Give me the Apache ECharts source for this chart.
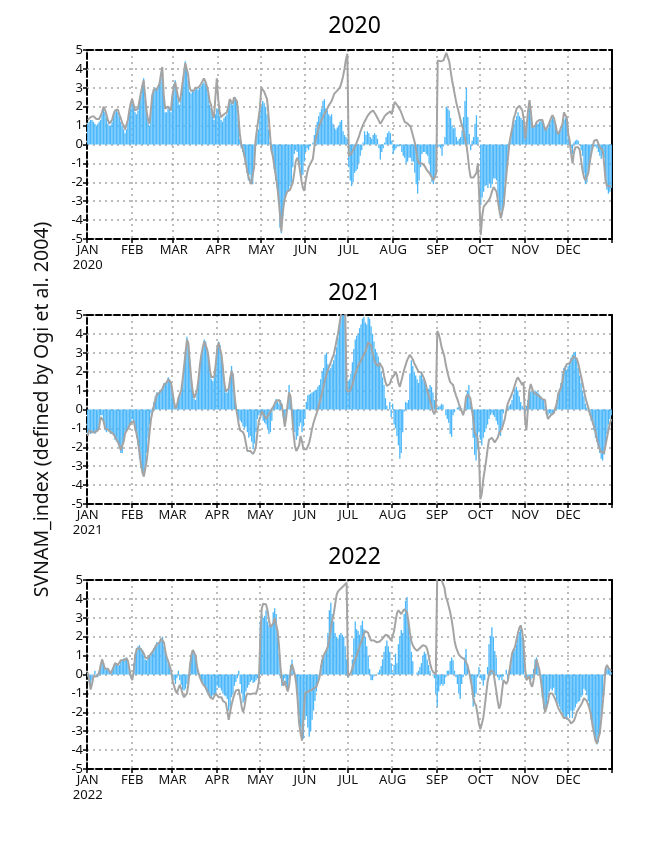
<!DOCTYPE html>
<html><head><meta charset="utf-8">
<script src="https://cdn.jsdelivr.net/npm/echarts@6/dist/echarts.min.js"></script>
<style>html,body{margin:0;padding:0;background:#fff}#c{width:662px;height:857px}</style>
</head><body><div id="c"></div>
<script>
const monthNames = ['JAN','FEB','MAR','APR','MAY','JUN','JUL','AUG','SEP','OCT','NOV','DEC'];
const panelYears = [2020, 2021, 2022];
const yTicks = [-5,-4,-3,-2,-1,0,1,2,3,4,5];
const yName = 'SVNAM_index (defined by Ogi et al. 2004)';

const bars2020 = [
1.1,1.2,1.3,1.3,1.2,1.1,1.0,1.1,1.2,1.3,1.6,1.9,1.7,1.4,1.1,1.0,1.0,1.2,1.5,1.7,1.8,1.7,1.5,1.2,1.0,0.8,0.6,0.8,1.2,1.7,2.1,
2.3,2.0,1.7,1.6,1.8,2.2,2.6,3.0,3.5,2.4,1.6,1.2,1.0,1.7,2.6,2.9,3.0,2.9,3.0,3.3,3.8,4.0,2.4,1.7,1.7,1.9,2.0,1.7,2.5,
3.2,3.4,2.8,2.4,2.1,2.5,3.1,3.7,4.4,4.0,3.4,2.8,2.7,2.9,2.8,2.9,3.0,2.9,3.0,3.1,3.2,3.3,3.2,3.0,2.7,2.1,1.9,1.5,1.3,1.6,1.9,
1.9,1.5,1.3,1.2,1.4,1.5,1.6,1.9,2.3,2.2,2.1,2.4,2.5,2.2,1.4,0.3,-0.2,-0.4,-0.6,-1.0,-1.5,-1.9,-1.6,-2.0,-2.1,-1.0,0.1,0.6,0.8,1.8,
2.0,2.3,2.2,2.0,1.6,0.8,0.1,-0.3,-0.7,-1.3,-1.9,-2.3,-3.0,-4.4,-4.7,-3.8,-3.0,-2.7,-2.5,-2.4,-2.2,-2.0,-1.2,-0.5,-0.3,-0.4,-0.8,-1.1,-1.8,-1.6,-0.9,
-0.4,-0.2,-0.3,-0.1,0.0,0.1,0.5,0.9,1.2,1.5,1.7,1.9,2.3,2.4,1.9,1.8,1.6,1.5,1.6,1.1,0.9,0.8,0.9,1.0,1.2,1.3,0.7,0.5,0.4,0.3,
-1.2,-1.9,-2.2,-2.0,-1.5,-1.4,-1.3,-1.0,-0.6,-0.3,0.1,0.7,0.5,0.7,0.6,0.4,0.3,0.5,0.6,0.5,0.3,-0.2,-0.8,-0.4,-0.2,0.1,0.4,0.6,0.7,0.6,0.2,
-0.5,-0.3,-0.2,-0.1,-0.1,-0.05,-0.4,-0.6,-0.7,-1.0,-0.9,-0.7,-0.7,-0.9,-0.9,-1.5,-2.1,-2.6,-1.9,-1.2,-0.5,-0.4,-0.4,-0.5,-0.6,-1.0,-1.7,-2.0,-2.1,-1.8,-1.4,
-0.15,-0.1,-0.2,-0.6,-0.1,0.4,2.0,1.9,1.8,1.4,1.0,0.85,0.9,0.4,0.2,0.3,0.4,0.75,1.45,2.3,3.0,1.45,0.55,-0.3,0.2,0.4,1.1,1.55,0.4,0.0,
-3.2,-2.8,-2.5,-2.2,-2.15,-2.3,-2.05,-2.3,-2.1,-1.8,-1.8,-1.9,-2.8,-3.3,-3.5,-3.7,-2.9,-2.0,-1.3,-0.6,0.1,0.5,0.8,1.1,1.3,1.5,1.7,1.5,1.4,1.3,1.0,
0.6,1.1,1.6,1.9,1.5,1.0,0.9,1.0,1.1,1.1,1.2,1.3,1.2,1.0,0.8,0.8,0.9,1.1,1.3,1.4,1.3,1.0,0.7,0.6,0.7,0.8,1.0,1.3,1.4,1.2,
0.3,0.1,-0.2,-0.5,0.1,0.2,0.25,0.2,0.0,-0.3,-0.6,-1.5,-2.1,-2.0,-1.6,-1.0,-0.5,-0.2,-0.1,-0.1,-0.2,-0.4,-0.6,-0.75,-0.5,-0.7,-1.7,-2.4,-2.6,-2.5,-2.3
];
const line2020 = [
1.3,1.4,1.45,1.5,1.5,1.45,1.35,1.3,1.35,1.45,1.7,2.0,1.85,1.6,1.3,1.1,1.15,1.3,1.6,1.8,1.9,1.85,1.6,1.4,1.15,1.0,0.8,0.9,1.3,1.8,2.2,
2.4,2.1,1.8,1.7,1.9,2.3,2.7,3.1,3.4,2.6,1.8,1.3,1.1,1.8,2.6,2.9,2.95,2.9,3.0,3.2,3.7,4.1,2.6,1.9,1.8,2.0,2.1,1.8,2.6,
3.0,3.3,2.9,2.5,2.25,2.6,3.2,3.75,4.3,4.2,3.7,3.0,2.85,2.95,2.85,3.0,3.1,3.0,3.05,3.2,3.35,3.5,3.35,3.1,2.8,2.3,2.1,1.6,1.4,2.5,3.5,
2.4,1.7,1.45,1.5,1.6,1.55,1.7,2.0,2.4,2.3,2.15,2.5,2.6,2.3,1.6,0.6,0.0,-0.2,-0.5,-0.9,-1.3,-1.7,-1.8,-2.1,-2.2,-1.2,0.2,0.8,0.9,1.9,
3.0,2.9,2.8,2.7,2.4,1.6,0.6,-0.3,-0.6,-1.1,-1.6,-2.1,-2.8,-3.7,-4.6,-3.6,-3.0,-2.7,-2.5,-2.45,-2.4,-2.3,-2.0,-1.5,-0.9,-0.7,-0.9,-1.4,-1.9,-2.3,-2.45,
-1.9,-1.5,-1.2,-1.05,-0.95,-0.75,-0.1,0.3,0.6,0.9,1.1,1.3,1.45,1.6,1.75,1.9,2.05,2.15,2.3,2.5,2.7,2.8,2.85,2.95,3.05,3.3,3.6,4.0,4.5,4.8,
-0.6,-0.55,-0.45,-0.3,-0.15,0.0,0.2,0.4,0.65,0.85,1.05,1.2,1.35,1.5,1.6,1.7,1.75,1.8,1.7,1.55,1.4,1.25,1.1,1.2,1.35,1.5,1.6,1.65,1.7,1.75,1.6,
2.0,2.25,2.15,2.05,1.95,1.8,1.6,1.4,1.2,1.1,1.1,1.05,0.95,0.85,0.4,0.1,-0.3,-0.8,-1.0,-1.0,-1.0,-1.05,-1.15,-1.3,-1.4,-1.5,-1.6,-1.75,-1.9,-1.8,-1.5,
4.45,4.55,4.4,4.35,4.45,4.65,4.85,4.8,4.4,3.9,3.4,3.0,2.6,2.2,1.9,1.6,1.25,1.0,0.7,0.3,0.0,-0.6,-1.3,-1.75,-1.75,-1.75,-1.65,-1.5,-1.0,-0.9,
-4.8,-3.8,-3.3,-3.2,-3.1,-3.05,-2.9,-2.7,-2.45,-2.25,-2.3,-2.5,-3.0,-3.5,-3.9,-3.8,-3.2,-2.3,-1.5,-0.7,0.1,0.5,0.9,1.4,1.6,1.9,2.0,2.05,2.0,1.8,1.3,
0.3,1.0,1.8,2.35,1.7,0.9,0.9,1.0,1.2,1.1,1.3,1.4,1.3,1.0,0.75,0.8,1.0,1.2,1.4,1.55,1.4,1.1,0.7,0.55,0.7,0.8,1.1,1.7,1.8,1.4,
0.55,0.2,-0.5,-1.0,-0.4,-0.15,-0.1,-0.15,-0.3,-0.85,-1.4,-1.75,-1.9,-1.8,-1.5,-0.95,-0.5,-0.15,0.2,0.3,0.25,0.05,-0.15,-0.15,-0.3,-1.0,-1.9,-2.2,-2.25,-2.2,-2.25
];

const bars2021 = [
-1.3,-1.2,-1.3,-1.2,-1.2,-1.3,-1.2,-1.1,-0.8,-0.3,-0.3,-0.7,-1.1,-1.2,-1.1,-1.2,-1.3,-1.2,-1.4,-1.6,-1.7,-1.8,-2.0,-2.3,-2.3,-1.6,-1.2,-1.1,-1.0,-0.8,-0.7,
-0.5,-0.7,-1.1,-1.5,-1.9,-2.6,-3.1,-3.4,-3.5,-3.2,-2.3,-1.5,-0.8,-0.2,0.1,0.4,0.7,0.9,0.9,1.0,1.0,1.2,1.4,1.4,1.5,1.7,1.6,1.3,
0.8,0.35,0.05,0.2,0.5,0.7,0.9,1.5,2.2,3.0,3.85,3.4,2.4,1.5,0.9,0.55,0.5,0.9,1.5,2.3,2.8,3.3,3.7,3.6,3.1,2.6,1.95,1.6,1.5,1.7,2.3,
3.3,3.6,3.4,2.8,2.1,1.3,0.9,0.9,1.1,1.7,2.3,1.9,0.9,0.2,-0.2,-0.5,-0.6,-0.7,-0.9,-1.0,-0.9,-1.2,-1.5,-1.4,-1.7,-2.1,-1.8,-1.2,-0.5,-0.3,
-0.2,-0.3,-0.6,-0.7,-0.8,-1.0,-1.3,-1.2,-0.6,0.1,0.4,0.55,0.4,0.3,0.5,0.3,-0.4,-0.9,-0.5,0.4,1.3,0.5,-0.3,-0.9,-1.2,-1.6,-1.4,-0.9,-0.7,-1.2,-0.9,
-0.5,0.4,0.75,0.8,0.85,0.9,0.95,1.0,1.05,1.2,1.3,1.6,2.0,2.2,2.9,3.0,2.4,2.1,2.2,2.4,2.6,2.9,3.3,3.8,4.3,4.8,5.0,5.0,4.8,2.0,
1.5,1.6,1.9,2.5,3.2,3.7,3.9,4.0,4.3,4.5,4.8,4.9,4.6,4.5,4.9,4.8,4.4,4.0,3.6,3.2,3.0,2.8,2.5,2.0,1.7,1.3,0.6,0.2,0.0,0.4,-0.4,
0.3,-0.8,-1.0,-1.4,-1.9,-2.6,-2.3,-1.2,-0.1,0.4,0.35,0.5,1.9,2.6,2.3,2.0,1.8,1.6,1.4,1.8,2.0,1.6,1.6,1.3,1.0,1.1,1.3,1.2,0.9,0.5,0.2,
0.1,0.15,0.2,0.3,0.25,0.0,-0.3,-0.5,-0.7,-1.3,-1.45,-0.3,-0.15,0.0,0.1,0.15,0.1,0.05,0.0,0.1,0.55,1.0,1.3,0.4,-0.1,-1.5,-2.4,-2.7,-2.1,-1.2,
-1.6,-1.9,-1.5,-1.2,-1.0,-0.8,-0.5,-0.3,-0.2,-0.3,-0.4,-0.6,-0.8,-1.2,-1.4,-0.9,-0.2,0.0,0.0,0.1,0.2,0.3,0.5,0.8,1.1,1.2,1.0,0.7,0.4,0.2,0.1,
-0.2,0.2,0.5,0.9,0.95,0.95,0.9,1.0,0.95,0.9,0.8,0.7,0.6,0.5,0.2,-0.3,-0.3,-0.2,-0.3,-0.25,-0.15,0.0,0.5,0.9,1.1,1.4,1.9,2.2,2.3,2.1,
2.3,2.5,2.75,2.9,3.0,3.05,2.6,2.2,1.8,1.4,1.0,0.7,0.3,0.1,-0.1,-0.3,-0.6,-0.8,-1.1,-1.5,-1.7,-2.0,-2.3,-2.6,-2.7,-2.4,-1.8,-1.3,-0.8,-0.5,-0.3
];
const line2021 = [
-1.4,-1.1,-1.2,-1.2,-1.15,-1.2,-1.15,-1.1,-0.9,-0.4,-0.3,-0.6,-1.0,-1.1,-1.05,-1.15,-1.2,-1.15,-1.3,-1.45,-1.55,-1.7,-1.9,-2.15,-2.2,-1.7,-1.25,-1.15,-1.0,-0.85,-0.7,
-0.65,-0.6,-1.0,-1.3,-1.7,-2.3,-2.9,-3.3,-3.55,-3.5,-2.7,-2.0,-1.2,-0.5,-0.15,0.2,0.5,0.8,0.85,0.9,0.95,1.1,1.3,1.35,1.45,1.6,1.55,1.4,
0.9,0.4,0.05,0.2,0.6,0.8,1.0,1.6,2.3,3.0,3.7,3.5,2.5,1.6,0.95,0.6,0.6,1.0,1.6,2.35,2.9,3.3,3.6,3.55,3.2,2.75,2.05,1.7,1.6,1.75,2.4,
3.2,3.55,3.45,2.9,2.2,1.4,0.95,0.9,1.1,1.6,2.05,1.8,0.8,0.1,-0.3,-0.8,-1.1,-1.05,-1.2,-1.4,-1.8,-2.2,-2.25,-2.2,-2.3,-2.35,-2.2,-1.9,-1.2,-0.6,
-0.4,-0.1,-0.2,-0.35,-0.5,-0.4,-0.25,-0.1,0.0,0.15,0.3,0.45,0.5,0.5,0.4,0.2,-0.3,-0.9,-0.4,0.3,0.9,0.7,-0.2,-1.2,-1.9,-2.2,-2.2,-1.9,-1.4,-1.7,-2.1,
-2.15,-2.1,-1.95,-1.75,-1.4,-1.0,-0.7,-0.45,-0.25,0.0,0.3,0.6,0.9,1.25,1.55,1.85,2.1,2.3,2.5,2.7,2.9,3.25,3.65,4.0,4.5,5.0,5.3,5.4,5.3,1.0,
1.0,0.95,1.05,1.3,1.6,1.9,2.1,2.3,2.45,2.6,2.75,2.9,3.05,3.3,3.55,3.65,3.4,3.0,2.7,2.45,2.35,2.3,2.45,2.4,2.2,1.8,1.45,1.25,1.2,1.35,1.6,
1.6,1.8,2.0,1.8,1.4,1.2,1.5,1.8,2.1,2.35,2.6,2.75,2.9,2.8,2.65,2.45,2.3,2.15,2.0,2.05,1.95,1.85,1.6,1.35,1.0,0.75,0.45,0.2,-0.1,-0.25,0.0,
4.15,4.0,3.7,3.3,3.05,2.8,2.35,2.0,1.7,1.45,1.4,1.3,1.0,0.75,0.55,0.3,0.1,-0.1,-0.3,0.0,0.65,0.8,0.9,0.6,0.1,-0.5,-1.2,-1.1,-1.5,-2.3,
-4.75,-4.45,-3.7,-3.2,-2.7,-2.1,-1.6,-1.55,-1.5,-1.6,-1.75,-1.65,-1.5,-1.25,-1.15,-1.0,-0.75,-0.5,-0.05,0.3,0.5,0.65,0.85,1.05,1.3,1.55,1.7,1.6,1.45,1.3,1.45,
-0.5,-1.1,0.0,1.0,1.35,1.1,0.9,0.85,0.8,0.75,0.7,0.6,0.55,0.5,0.5,-0.2,-0.5,-0.4,-0.3,-0.25,-0.2,-0.15,0.3,0.75,1.0,1.15,1.5,2.0,2.2,2.4,
2.4,2.45,2.6,2.7,2.8,2.85,2.7,2.45,2.1,1.75,1.4,1.0,0.65,0.35,0.1,-0.2,-0.4,-0.65,-0.9,-1.2,-1.55,-1.85,-2.1,-2.25,-2.35,-2.3,-1.9,-1.5,-1.1,-0.75,-0.5
];

const bars2022 = [
-0.1,-0.4,-0.7,-0.3,0.0,0.2,-0.1,-0.15,0.2,0.5,0.75,0.6,0.3,0.25,0.35,0.2,0.05,0.2,0.5,0.6,0.6,0.45,0.5,0.7,0.8,0.85,0.85,0.9,0.6,0.3,-0.2,
0.0,0.6,1.1,1.4,1.5,1.55,1.4,1.3,1.0,0.8,0.75,0.85,1.0,1.1,1.2,1.4,1.55,1.7,1.6,1.75,1.8,2.0,1.5,1.1,0.9,0.6,0.4,0.1,
-0.1,-0.3,-0.5,-0.2,0.2,-0.3,-0.55,-0.8,-0.85,-0.75,-0.5,-0.2,0.6,1.0,1.2,1.25,0.9,0.4,0.1,-0.15,-0.3,-0.45,-0.6,-0.8,-0.95,-1.1,-1.15,-1.2,-1.1,-1.05,-1.0,
-0.6,-0.7,-0.7,-0.85,-1.0,-1.1,-1.15,-1.3,-1.9,-1.7,-1.2,-1.0,-0.6,-0.4,-0.2,0.2,-0.5,-1.0,-1.5,-1.4,-0.9,-0.7,-0.55,-0.4,-0.3,-0.45,-0.4,-0.3,-0.2,0.1,
2.8,3.2,3.0,3.1,3.4,2.8,2.6,2.5,2.6,3.3,3.5,3.2,2.0,1.1,-0.2,-0.6,-0.35,-0.2,-0.5,-0.8,-0.3,0.5,0.8,0.4,0.0,-0.4,-1.2,-2.2,-2.8,-3.1,-3.4,
-2.4,-2.2,-2.8,-3.3,-3.0,-2.4,-1.9,-1.4,-0.9,-0.4,0.0,0.5,0.8,1.0,1.1,1.3,2.2,3.4,3.8,3.2,2.8,2.2,2.0,1.9,2.1,2.2,2.1,2.0,1.5,0.8,
-0.15,-0.05,0.05,0.8,1.9,2.8,2.4,2.3,2.1,2.6,2.85,2.4,2.0,1.5,1.0,0.3,-0.3,-0.3,-0.1,0.0,0.0,0.1,0.25,0.45,0.8,1.2,1.5,1.8,1.5,1.2,0.6,
0.1,0.5,1.1,0.6,1.6,2.0,2.35,2.2,3.2,3.9,4.1,2.8,2.0,1.2,0.7,0.0,0.0,0.1,0.2,0.4,0.6,1.0,1.2,1.1,0.8,0.5,0.2,0.0,-0.05,-0.2,-1.0,
-1.7,-0.9,-0.6,-0.5,-0.6,-0.5,-0.15,0.2,0.2,0.7,0.9,0.75,0.2,-0.15,-0.5,-1.0,-1.3,-0.5,-0.15,0.9,1.35,0.4,0.0,-0.15,-0.5,-1.7,-1.2,-1.0,-0.15,0.4,
-0.2,-0.3,-0.6,-0.3,0.0,0.4,1.6,2.05,2.5,2.0,1.25,0.9,-0.15,-0.3,-0.15,-0.3,-0.1,0.0,0.25,-0.3,0.2,0.7,1.1,1.25,1.35,1.6,2.0,2.25,2.4,2.0,1.3,
-0.15,-0.3,-0.15,-0.1,-0.3,-0.2,0.3,0.8,0.9,0.6,0.0,-0.4,-1.2,-1.8,-2.0,-1.8,-1.2,-0.9,-0.75,-0.85,-0.7,-1.1,-1.4,-1.55,-1.7,-1.9,-2.0,-2.2,-2.25,-2.4,
-2.1,-2.3,-1.9,-2.3,-1.9,-1.75,-1.55,-1.45,-1.4,-1.2,-1.1,-0.75,-0.85,-1.1,-1.4,-1.9,-2.4,-2.8,-3.15,-3.4,-3.7,-3.6,-3.15,-2.25,-1.2,0.0,0.2,0.3,0.4,0.2,0.1
];
const line2022 = [
0.1,-0.3,-0.8,-0.5,-0.1,0.0,-0.1,-0.2,0.1,0.5,0.8,0.7,0.3,0.2,0.3,0.2,0.05,0.1,0.4,0.6,0.65,0.5,0.55,0.75,0.8,0.75,0.8,0.85,0.7,0.3,-0.1,
-0.3,0.2,1.0,1.35,1.45,1.4,1.35,1.25,1.1,0.9,0.8,0.85,1.0,1.1,1.2,1.3,1.45,1.6,1.5,1.7,1.9,2.0,1.7,1.2,0.9,0.7,0.45,0.2,
-0.35,-0.6,-0.85,-1.0,-0.75,-0.55,-0.75,-1.05,-1.2,-1.15,-1.0,-0.5,0.4,1.0,1.3,1.3,1.0,0.4,0.1,-0.15,-0.35,-0.5,-0.6,-0.7,-0.85,-1.0,-1.2,-1.3,-1.3,-1.25,-1.0,
-1.0,-1.2,-1.15,-1.2,-1.4,-1.35,-1.5,-1.9,-2.4,-2.0,-1.6,-1.3,-1.05,-0.85,-0.75,-0.8,-1.2,-1.7,-2.0,-1.7,-1.2,-1.0,-0.9,-1.05,-1.1,-1.0,-1.05,-1.0,-0.8,-0.4,
2.0,3.5,3.75,3.8,3.7,3.4,2.9,2.5,2.5,2.7,3.0,2.9,2.3,1.5,0.4,-0.3,-0.6,-0.35,-0.45,-0.9,-0.6,0.2,0.55,0.45,0.0,-0.5,-1.4,-2.6,-3.1,-3.5,-3.6,
-1.0,-0.95,-0.9,-0.85,-0.85,-0.8,-0.75,-0.75,-0.65,-0.55,-0.2,0.3,0.75,1.0,1.15,1.3,1.5,1.9,2.4,2.85,3.2,3.7,4.2,4.4,4.5,4.55,4.6,4.7,4.8,4.85,
-0.1,-0.15,0.1,0.35,0.6,0.8,1.0,1.25,1.5,1.7,1.9,2.15,2.3,2.35,2.2,1.95,1.8,1.75,1.8,1.85,1.7,1.75,1.75,1.8,1.9,2.0,2.1,2.15,2.05,1.95,1.8,
1.9,2.3,2.8,3.25,3.4,3.35,3.2,3.25,3.45,3.5,3.3,2.8,2.2,1.75,1.55,1.4,1.3,1.25,1.3,1.4,1.5,1.55,1.55,1.5,1.35,1.0,0.6,0.3,0.15,0.05,0.0,
5.3,5.4,5.2,5.0,4.8,4.6,4.1,3.9,3.6,3.3,2.9,2.4,1.8,1.45,1.25,1.05,0.95,0.9,0.85,0.8,0.7,0.5,0.2,-0.2,-0.6,-1.2,-1.5,-1.65,-2.1,-2.6,
-2.9,-2.6,-2.3,-1.7,-1.05,-0.4,0.0,0.2,0.25,0.15,-0.35,-0.85,-1.4,-1.8,-1.6,-0.9,-0.3,-0.2,-0.5,-0.35,0.1,0.6,1.1,1.3,1.45,1.8,2.15,2.45,2.6,2.3,1.65,
0.4,-0.3,-0.25,-0.1,-0.5,-0.65,-0.3,0.3,0.8,0.75,0.25,-0.3,-0.85,-1.5,-2.0,-1.9,-1.45,-1.0,-0.9,-1.0,-1.1,-1.3,-1.5,-1.75,-1.9,-2.0,-2.15,-2.3,-2.35,-2.3,
-2.4,-2.45,-2.6,-2.7,-2.45,-2.25,-2.0,-1.85,-1.75,-1.6,-1.45,-1.25,-1.3,-1.4,-1.6,-1.85,-2.2,-2.7,-3.1,-3.5,-3.65,-3.55,-3.1,-2.4,-1.6,-0.7,0.3,0.5,0.35,0.25,0.2
];

const barData = [bars2020, bars2021, bars2022];
const lineData = [line2020, line2021, line2022];

// layout (not data)
const GRID_LEFT = 87, GRID_W = 525, GRID_H = 189;
const gridTops = [50, 315, 580];
const titleTops = [10, 277, 541];
const FONT = 'Noto Sans';
const BAR_COLOR = '#4cb8fb';
const LINE_COLOR = '#a4a4a4';

function dayCats(year) {
  const cats = [];
  const d = new Date(Date.UTC(year, 0, 1));
  while (d.getUTCFullYear() === year) {
    cats.push(d.toISOString().slice(0, 10));
    d.setUTCDate(d.getUTCDate() + 1);
  }
  return cats;
}
const isMonthStart = (i, v) => typeof v === 'string' && v.slice(8, 10) === '01';
const dashed = { color: '#000', width: 2, type: [6, 3] };
const dotted = { color: '#a8a8a8', width: 1.5, type: [2, 4] };

const grids = [], xAxes = [], yAxes = [], series = [], titles = [];
panelYears.forEach((yr, p) => {
  const cats = dayCats(yr);
  grids.push({ left: GRID_LEFT, top: gridTops[p], width: GRID_W, height: GRID_H, containLabel: false });
  titles.push({
    text: String(yr), left: GRID_LEFT + GRID_W / 2, top: titleTops[p], textAlign: 'center',
    textStyle: { fontFamily: FONT, fontSize: 23, fontWeight: 'normal', color: '#000' }
  });
  xAxes.push({
    type: 'category', gridIndex: p, data: cats, boundaryGap: true, position: 'bottom',
    axisLine: { show: true, onZero: false, lineStyle: dashed },
    axisTick: { show: true, interval: isMonthStart, length: 4, lineStyle: { color: '#000', width: 1.5 } },
    axisLabel: {
      interval: isMonthStart, fontFamily: FONT, fontSize: 13, color: '#111', margin: 4, lineHeight: 15,
      formatter: v => {
        const m = +v.slice(5, 7);
        return m === 1 ? monthNames[0] + '\n' + v.slice(0, 4) : monthNames[m - 1];
      }
    },
    splitLine: { show: true, interval: isMonthStart, lineStyle: dotted }
  });
  xAxes.push({
    type: 'category', gridIndex: p, data: cats, position: 'top',
    axisLine: { show: true, onZero: false, lineStyle: dashed },
    axisTick: { show: false }, axisLabel: { show: false }, splitLine: { show: false }
  });
  yAxes.push({
    type: 'value', gridIndex: p, min: yTicks[0], max: yTicks[yTicks.length - 1], interval: 1, position: 'left',
    axisLine: { show: true, onZero: false, lineStyle: dashed },
    axisTick: { show: true, length: 4, lineStyle: { color: '#000', width: 1.5 } },
    axisLabel: { fontFamily: FONT, fontSize: 13, color: '#111', margin: 4 },
    splitLine: { show: true, lineStyle: dotted },
    name: p === 1 ? yName : '',
    nameLocation: 'middle', nameRotate: 90, nameGap: 35,
    nameTextStyle: { fontFamily: FONT, fontSize: 19.5, color: '#111' }
  });
  yAxes.push({
    type: 'value', gridIndex: p, min: -5, max: 5, interval: 1, position: 'right',
    axisLine: { show: true, onZero: false, lineStyle: { color: '#000', width: 2 } },
    axisTick: { show: false }, axisLabel: { show: false }, splitLine: { show: false }
  });
  series.push({
    type: 'bar', xAxisIndex: 2 * p, yAxisIndex: 2 * p, data: barData[p],
    barCategoryGap: '8%', itemStyle: { color: BAR_COLOR }, z: 2, silent: true
  });
  series.push({
    type: 'line', xAxisIndex: 2 * p, yAxisIndex: 2 * p, data: lineData[p],
    symbol: 'none', smooth: false, clip: true,
    lineStyle: { color: LINE_COLOR, width: 2 }, z: 3, silent: true
  });
});

const chart = echarts.init(document.getElementById('c'), null, { renderer: 'canvas' });
chart.setOption({
  animation: false,
  backgroundColor: '#fff',
  textStyle: { fontFamily: FONT },
  title: titles,
  grid: grids,
  xAxis: xAxes,
  yAxis: yAxes,
  series: series
});
</script>
</body></html>
